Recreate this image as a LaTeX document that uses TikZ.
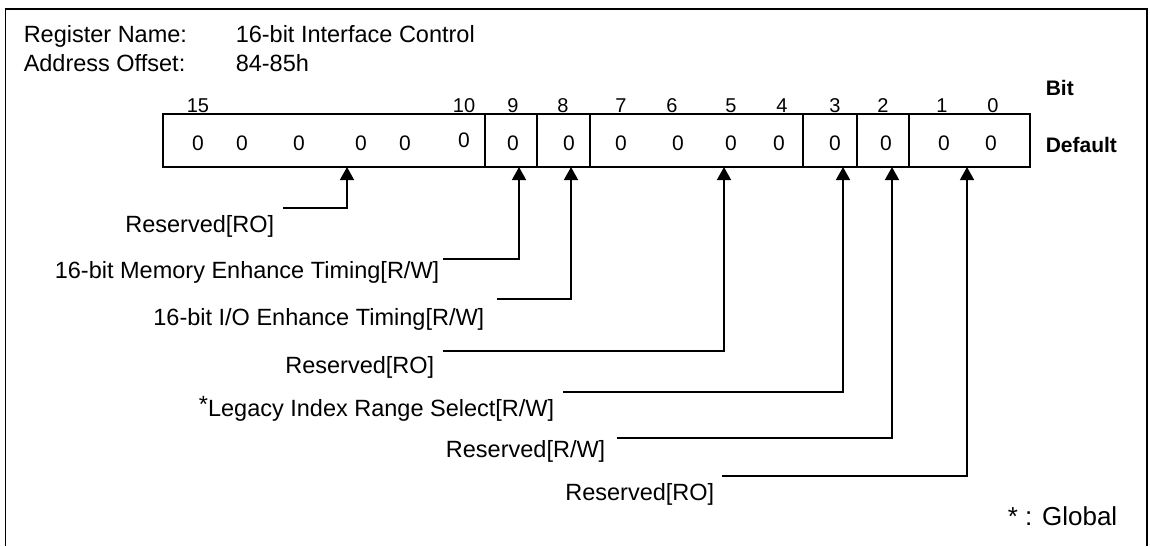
\documentclass[tikz,border=0pt]{standalone}
\usepackage{fontspec}
\setmainfont{Liberation Sans}
\usetikzlibrary{arrows.meta}

\begin{document}
\begin{tikzpicture}[
        x=1pt, y=-1pt,
        >={Triangle[length=13pt, width=14pt]},
        line width=1.5pt,
        txt/.style={font=\fontsize{23.5}{27}\selectfont, inner sep=0pt},
        bitnum/.style={font=\fontsize{20}{24}\selectfont, inner sep=0pt, anchor=base},
        defval/.style={font=\fontsize{21}{25}\selectfont, inner sep=0pt, anchor=base},
        side/.style={font=\fontsize{21}{25}\selectfont\bfseries, inner sep=0pt, anchor=base west},
        lbl/.style={txt, anchor=base east},
        conn/.style={->, line width=1.4pt}
    ]
    \useasboundingbox (0,0) rectangle (1150,546);

    % Rahmen (unten offen)
    \draw[line width=1.8pt] (5.5,546) -- (5.5,9) -- (1147,9) -- (1147,546);

    % Kopf
    \node[txt, anchor=base west] (regname) at (23,42) {Register Name:};
    \node[txt, anchor=base west] (regval) at (235,42) {16-bit Interface Control};
    \node[txt, anchor=base west] (addrname) at (23,71) {Address Offset:};
    \node[txt, anchor=base west] (addrval) at (235,71) {84-85h};

    % Bitnummern
    \foreach \n/\x in {15/198, 10/464, 9/513, 8/563, 7/621, 6/672, 5/731, 4/782, 3/835, 2/883, 1/942, 0/993}
        \node[bitnum] (bit\n) at (\x,112) {\n};
    \node[side] (bitlbl) at (1045,95) {Bit};

    % Register
    \draw (163,114) rectangle (1030,167);
    \foreach \x in {485,537,590,803,857,909}
        \draw (\x,114) -- (\x,167);

    % Defaultwerte
    \foreach \n/\x in {15/198, 14/242, 13/299, 12/361, 11/405, 9/513, 8/569, 7/621, 6/678, 5/731, 4/779, 3/835, 2/886, 1/944, 0/991}
        \node[defval] (def\n) at (\x,150) {0};
    \node[defval] (def10) at (464,147) {0};
    \node[side] (deflbl) at (1045,152) {Default};

    % Pfeilspitzen am Register
    \foreach \n/\x in {res15/347, mem/519, io/571, res7/724, legacy/843, resrw/892, res1/967}
        \coordinate (tip\n) at (\x,167);

    % Feldbeschreibungen
    \node[lbl] (res15) at (275,232) {Reserved[RO]};
    \coordinate (sres15) at (283,208);
    \draw[conn] (sres15) -| (tipres15);

    \node[lbl] (mem) at (440,278) {16-bit Memory Enhance Timing[R/W]};
    \coordinate (smem) at (443,259);
    \draw[conn] (smem) -| (tipmem);

    \node[lbl] (io) at (485,325) {16-bit I/O Enhance Timing[R/W]};
    \coordinate (sio) at (497,299);
    \draw[conn] (sio) -| (tipio);

    \node[lbl] (res7) at (435,373) {Reserved[RO]};
    \coordinate (sres7) at (443,351);
    \draw[conn] (sres7) -| (tipres7);

    \node[lbl] (legacy) at (555,416) {\raisebox{4pt}{*}Legacy Index Range Select[R/W]};
    \coordinate (slegacy) at (563,392);
    \draw[conn] (slegacy) -| (tiplegacy);

    \node[lbl] (resrw) at (606,457) {Reserved[R/W]};
    \coordinate (sresrw) at (617,438);
    \draw[conn] (sresrw) -| (tipresrw);

    \node[lbl] (res1) at (715,500) {Reserved[RO]};
    \coordinate (sres1) at (722,476);
    \draw[conn] (sres1) -| (tipres1);

    % Legende
    \node[font=\fontsize{26}{30}\selectfont, inner sep=0pt, anchor=base east] (global) at (1118,525) {* : Global};

\end{tikzpicture}
\end{document}
